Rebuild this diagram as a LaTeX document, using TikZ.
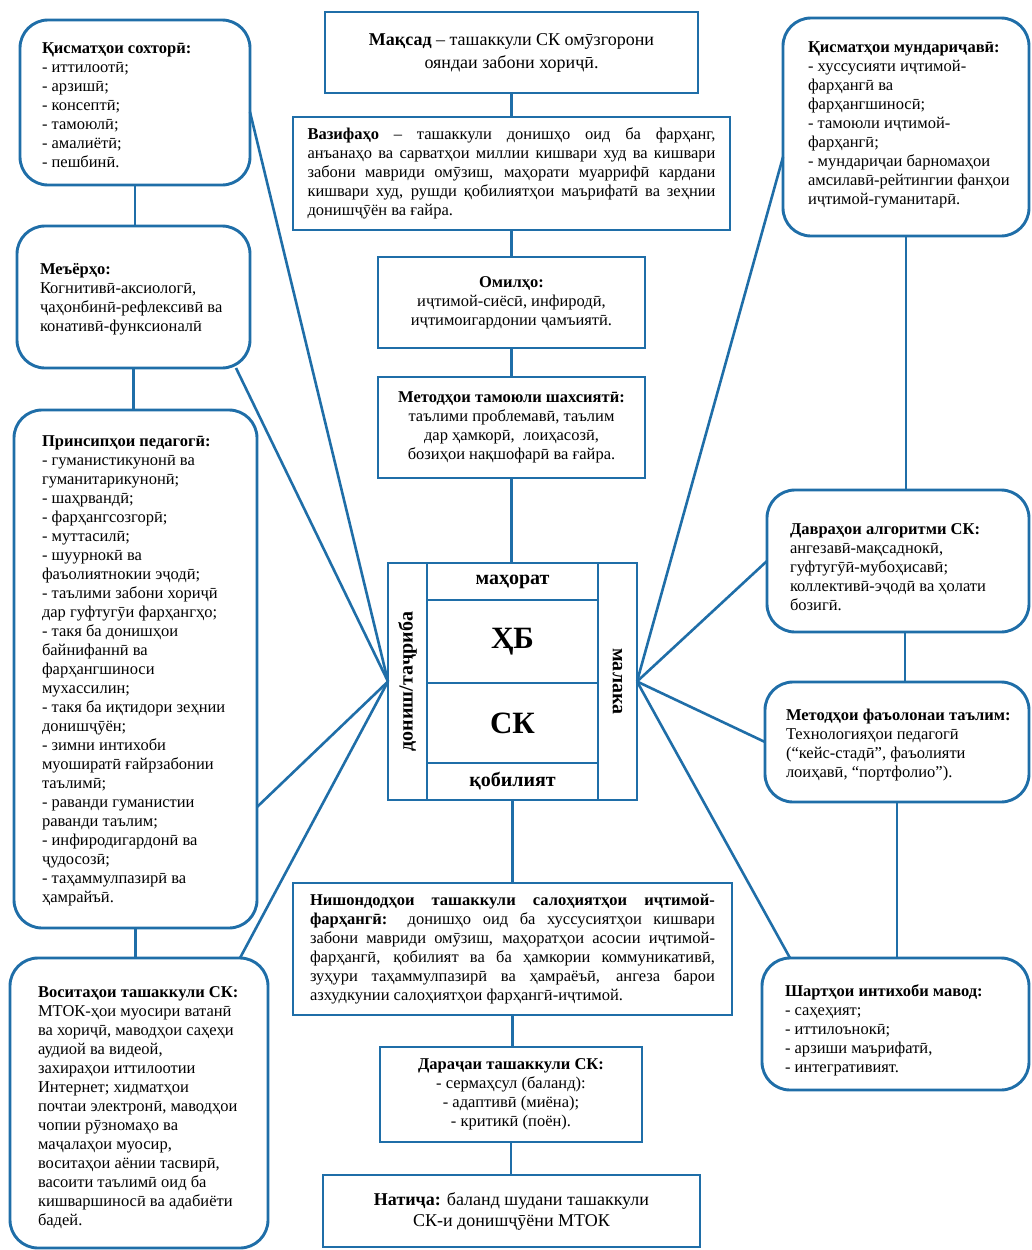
\documentclass[tikz,border=0pt]{standalone}
\usepackage{fontspec}
\setmainfont{Liberation Serif}
\usetikzlibrary{calc}
\definecolor{frame}{RGB}{31,110,168}
\hyphenpenalty=10000
\exhyphenpenalty=10000
\begin{document}
\begin{tikzpicture}[x=1pt,y=-1pt,
  every node/.style={inner sep=0pt, outer sep=0pt, text=black},
  norm/.style={font=\fontsize{16.5}{19}\selectfont},
  big/.style={font=\fontsize{18}{23}\selectfont},
  rbox/.style 2 args={draw=frame, line width=2.9pt, rounded corners=28pt, minimum width=#1, minimum height=#2},
  sbox/.style 2 args={draw=frame, line width=2.9pt, minimum width=#1, minimum height=#2},
  txt/.style={norm, align=left},
  conn/.style={draw=frame, line width=2.6pt},
  cell/.style 2 args={draw=frame, line width=2.6pt, minimum width=#1, minimum height=#2, font=\bfseries\fontsize{20}{22}\selectfont}
]
\fill[white] (0,0) rectangle (1032,1250);
\useasboundingbox (0,0) rectangle (1032,1250);

% ---------- left column ----------
\node[rbox={230pt}{165pt}] (sox) at (135,102.5) {};
\node[txt, anchor=west] (soxT) at (42,105) {\textbf{Қисматҳои сохторӣ:}\\- иттилоотӣ;\\- арзишӣ;\\- консептӣ;\\- тамоюлӣ;\\- амалиётӣ;\\- пешбинӣ.};

\node[rbox={233pt}{142pt}] (meyor) at (133.5,297) {};
\node[txt, anchor=west] (meyorT) at (40,299) {\textbf{Меъёрҳо:}\\Когнитивӣ-аксиологӣ,\\ҷаҳонбинӣ-рефлексивӣ ва\\конативӣ-функсионалӣ};

\node[rbox={243pt}{518pt}] (princ) at (135.5,669) {};
\node[txt, anchor=west] (princT) at (42,671) {\textbf{Принсипҳои педагогӣ:}\\- гуманистикунонӣ ва\\гуманитарикунонӣ;\\- шаҳрвандӣ;\\- фарҳангсозгорӣ;\\- муттасилӣ;\\- шуурнокӣ ва\\фаъолиятнокии эҷодӣ;\\- таълими забони хориҷӣ\\дар гуфтугӯи фарҳангҳо;\\- такя ба донишҳои\\байнифаннӣ ва\\фарҳангшиноси\\мухассилин;\\- такя ба иқтидори зеҳнии\\донишҷӯён;\\- зимни интихоби\\муоширатӣ ғайрзабонии\\таълимӣ;\\- раванди гуманистии\\раванди таълим;\\- инфиродигардонӣ ва\\ҷудосозӣ;\\- таҳаммулпазирӣ ва\\ҳамрайъӣ.};

\node[rbox={258pt}{290pt}] (vosit) at (139,1103) {};
\node[txt, anchor=west] (vositT) at (38,1108) {\textbf{Воситаҳои ташаккули СК:}\\МТОК-ҳои муосири ватанӣ\\ва хориҷӣ, маводҳои саҳеҳи\\аудиой ва видеой,\\захираҳои иттилоотии\\Интернет; хидматҳои\\почтаи электронӣ, маводҳои\\чопии рӯзномаҳо ва\\маҷалаҳои муосир,\\воситаҳои аёнии тасвирӣ,\\васоити таълимӣ оид ба\\кишваршиносӣ ва адабиёти\\бадей.};

% ---------- right column ----------
\node[rbox={246pt}{218pt}] (mund) at (906,127) {};
\node[txt, anchor=west] (mundT) at (808,125) {\textbf{Қисматҳои мундариҷавӣ:}\\- хуссусияти иҷтимой-\\фарҳангӣ ва\\фарҳангшиносӣ;\\- тамоюли иҷтимой-\\фарҳангӣ;\\- мундариҷаи барномаҳои\\амсилавӣ-рейтингии фанҳои\\иҷтимой-гуманитарӣ.};

\node[rbox={262pt}{142pt}] (davr) at (898,561) {};
\node[txt, anchor=west] (davrT) at (790,567) {\textbf{Давраҳои алгоритми СК:}\\ангезавӣ-мақсаднокӣ,\\гуфтугӯӣ-мубоҳисавӣ;\\коллективӣ-эҷодӣ ва ҳолати\\бозигӣ.};

\node[rbox={264pt}{120pt}] (metf) at (897,742) {};
\node[txt, anchor=west] (metfT) at (786,745) {\textbf{Методҳои фаъолонаи таълим:}\\Технологияҳои педагогӣ\\(“кейс-стадӣ”, фаъолияти\\лоиҳавӣ, “портфолио”).};

\node[rbox={267pt}{132pt}] (shart) at (895.5,1024) {};
\node[txt, anchor=west] (shartT) at (785,1030) {\textbf{Шартҳои интихоби мавод:}\\- саҳеҳият;\\- иттилоънокӣ;\\- арзиши маърифатӣ,\\- интегративият.};

% ---------- centre column ----------
\node[sbox={373pt}{81pt}, big, align=center] (maqsad) at (511.5,52.5) {\textbf{Мақсад} – ташаккули СК омӯзгорони\\ояндаи забони хориҷӣ.};

\node[sbox={437pt}{113pt}, norm, align=justify, text width=408pt] (vazifa) at (511.5,173.5) {\textbf{Вазифаҳо} – ташаккули донишҳо оид ба фарҳанг,\linebreak анъанаҳо ва сарватҳои миллии кишвари худ ва кишвари\linebreak забони мавриди омӯзиш, маҳорати муаррифӣ кардани\linebreak кишвари худ, рушди қобилиятҳои маърифатӣ ва зеҳнии\linebreak донишҷӯён ва ғайра.};

\node[sbox={267pt}{91pt}, norm, align=center] (omil) at (511.5,302.5) {\textbf{Омилҳо:}\\иҷтимой-сиёсӣ, инфиродӣ,\\иҷтимоигардонии ҷамъиятӣ.};

\node[sbox={267pt}{101pt}, norm, align=center] (metodt) at (511.5,427.5) {\textbf{Методҳои тамоюли шахсиятӣ:}\\таълими проблемавӣ, таълим\\дар ҳамкорӣ,\ \ лоиҳасозӣ,\\бозиҳои нақшофарӣ ва ғайра.};

% core block
\node[sbox={249pt}{237pt}] (core) at (512.5,681.5) {};
\node[cell={237pt}{39pt}, rotate=90] (lstrip) at (407.5,681.5) {дониш/таҷриба};
\node[cell={237pt}{39pt}, rotate=-90] (rstrip) at (617.5,681.5) {малака};
\node[cell={171pt}{37pt}] (top) at (512.5,581.5) {маҳорат};
\node[cell={171pt}{83pt}, font=\bfseries\fontsize{31}{33}\selectfont] (hb) at (512.5,641.5) {ҲБ};
\node[cell={171pt}{80pt}, font=\bfseries\fontsize{31}{33}\selectfont] (sk) at (512.5,723) {СК};
\node[cell={171pt}{37pt}] (bot) at (512.5,781.5) {қобилият};

\node[sbox={439pt}{132pt}, norm, align=justify, text width=405pt] (nishon) at (512.5,949) {\textbf{Нишондодҳои ташаккули салоҳиятҳои иҷтимой-}\linebreak \textbf{фарҳангӣ:} донишҳо оид ба хуссусиятҳои кишвари\linebreak забони мавриди омӯзиш, маҳоратҳои асосии иҷтимой-\linebreak фарҳангӣ, қобилият ва ба ҳамкории коммуникативӣ,\linebreak зуҳури таҳаммулпазирӣ ва ҳамраёъӣ, ангеза барои\linebreak азхудкунии салоҳиятҳои фарҳангӣ-иҷтимой.};

\node[sbox={262pt}{95pt}, norm, align=center] (daraja) at (511,1094.5) {\textbf{Дараҷаи ташаккули СК:}\\- сермаҳсул (баланд):\\- адаптивӣ (миёна);\\- критикӣ (поён).};

\node[sbox={377pt}{72pt}, align=center, font=\fontsize{18}{21}\selectfont] (natija) at (511.5,1211) {\textbf{Натиҷа:} баланд шудани ташаккули\\СК-и донишҷӯёни МТОК};

% ---------- vertical connectors ----------
\draw[conn] (sox.south) -- (sox.south |- meyor.north);
\draw[conn] (meyor.south) -- (meyor.south |- princ.north);
\draw[conn] (princ.south) -- (princ.south |- vosit.north);
\draw[conn] (mund.south) -- (mund.south |- davr.north);
\coordinate (dm) at ($(davr.south)+(7,0)$);
\draw[conn] (dm) -- (dm |- metf.north);
\draw[conn] (metf.south) -- (metf.south |- shart.north);
\draw[conn] (maqsad.south) -- (maqsad.south |- vazifa.north);
\draw[conn] (vazifa.south) -- (vazifa.south |- omil.north);
\draw[conn] (omil.south) -- (omil.south |- metodt.north);
\draw[conn] (metodt.south) -- (metodt.south |- core.north);
\draw[conn] (core.south) -- (core.south |- nishon.north);
\draw[conn] (nishon.south) -- (nishon.south |- daraja.north);
\draw[conn] (daraja.south) -- (daraja.south |- natija.north);

% ---------- radial connectors ----------
\coordinate (s1) at ($(sox.east)+(0,9.5)$);
\coordinate (s2) at ($(meyor.south east)+(-14,0)$);
\coordinate (s3) at ($(princ.east)+(0,138)$);
\coordinate (s4) at ($(vosit.north east)+(-28,0)$);
\coordinate (s5) at ($(mund.west)+(0,30)$);
\coordinate (s6) at (davr.west);
\coordinate (s7) at (metf.west);
\coordinate (s8) at ($(shart.north west)+(28,0)$);
\foreach \s in {s1,s2,s3,s4} \draw[conn] (\s) -- (core.west);
\foreach \s in {s5,s6,s7,s8} \draw[conn] (\s) -- (core.east);
\end{tikzpicture}
\end{document}
